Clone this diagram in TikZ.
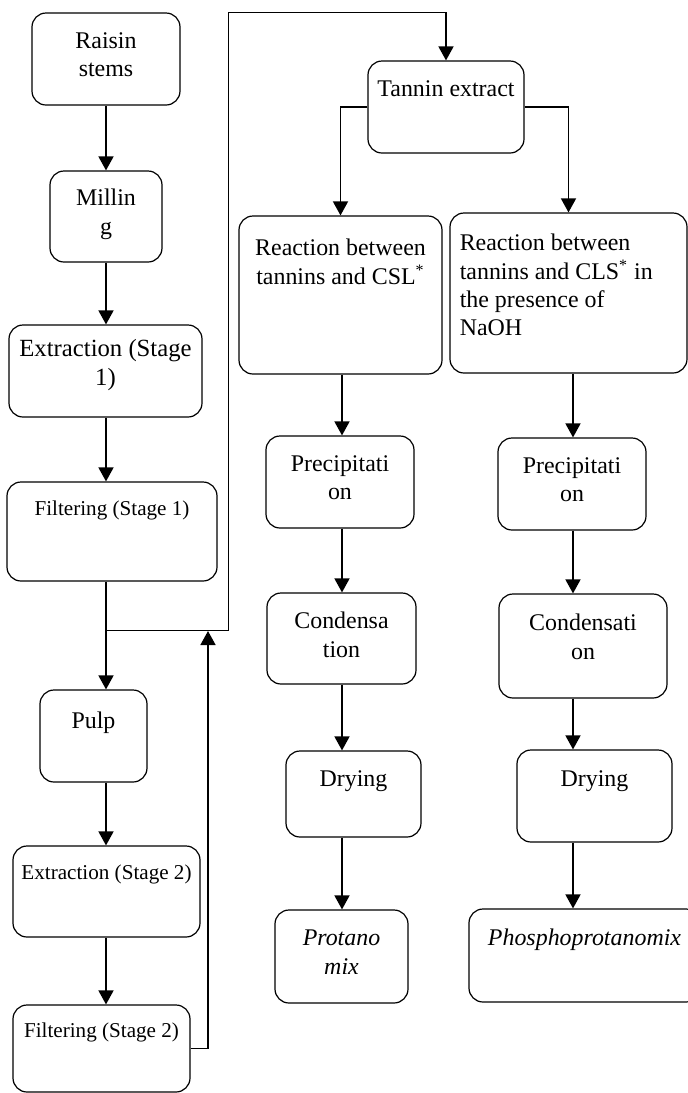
\documentclass[tikz,border=0pt]{standalone}
\usepackage{fontspec}
\setmainfont{Liberation Serif}
\usetikzlibrary{arrows.meta,positioning}

\begin{document}
\begin{tikzpicture}[x=0.5bp,y=-0.5bp,
   every node/.style={font=\fontsize{12}{14.2}\selectfont},
   box/.style={draw,rectangle,rounded corners=7bp,line width=0.6bp,inner sep=0pt},
   txt/.style={inner sep=0pt,align=center},
   small/.style={font=\fontsize{10.6}{12.7}\selectfont},
   arr/.style={line width=0.8bp,-{Triangle[length=7bp,width=7.5bp]}},
   ln/.style={line width=0.5bp}
]
\useasboundingbox (0,0) rectangle (688,1093);

% column lines and bends
\coordinate (CL) at (106,0);
\coordinate (CM) at (342,0);
\coordinate (CR) at (573,0);
\coordinate (J1) at (106,630);
\coordinate (J2) at (208,631);
\coordinate (TL) at (228,12);

% left column
\node[box,minimum width=74bp,minimum height=46bp] (RS) at (106,59) {};
\node[txt,below=9.75bp of RS.north] (RSt) {Raisin\\stems};
\node[box,minimum width=56bp,minimum height=45.5bp] (MI) at (106,216.5) {};
\node[txt,below=9.25bp of MI.north] (MIt) {Millin\\g};
\node[box,minimum width=96.5bp,minimum height=46bp] (EX1) at (105.5,371) {};
\node[txt,below=7.5bp of EX1.north,font=\fontsize{12.4}{14.4}\selectfont] (EX1t) {Extraction (Stage\\1)};
\node[box,minimum width=105bp,minimum height=49.5bp] (FL1) at (112,531.5) {};
\node[txt,small,below=9.5bp of FL1.north] (FL1t) {Filtering (Stage 1)};
\node[box,minimum width=53.5bp,minimum height=46bp] (PU) at (93.5,736) {};
\node[txt,below=11bp of PU.north] (PUt) {Pulp};
\node[box,minimum width=93.5bp,minimum height=45.5bp] (EX2) at (106.5,891.5) {};
\node[txt,small,below=9.75bp of EX2.north] (EX2t) {Extraction (Stage 2)};
\node[box,minimum width=88.5bp,minimum height=43.5bp] (FL2) at (101.5,1048.5) {};
\node[txt,small,below=9.25bp of FL2.north] (FL2t) {Filtering (Stage 2)};

\draw[arr] (RS.south -| CL) -- (MI.north -| CL);
\draw[arr] (MI.south -| CL) -- (EX1.north -| CL);
\draw[arr] (EX1.south -| CL) -- (FL1.north -| CL);
\draw[arr] (FL1.south -| CL) -- (PU.north -| CL);
\draw[arr] (PU.south -| CL) -- (EX2.north -| CL);
\draw[arr] (EX2.south -| CL) -- (FL2.north -| CL);

% tannin extract and its two branches
\node[box,minimum width=78bp,minimum height=46bp] (TE) at (446,107) {};
\node[txt,below=9.75bp of TE.north] (TEt) {Tannin extract};
\draw[ln] (J1) -| (TL) -- (TL -| TE.north);
\draw[arr] (TL -| TE.north) -- (TE.north);
\draw[arr] (FL2.east) -| (J2);

\node[box,minimum width=101.5bp,minimum height=79bp] (RX1) at (340.5,295) {};
\node[txt,below=11.75bp of RX1.north] (RX1t) {Reaction between\\tannins and CSL\textsuperscript{*}};
\node[box,minimum width=118.5bp,minimum height=80bp] (RX2) at (568.5,293) {};
\node[txt,align=left,below right=10.75bp and 5bp of RX2.north west] (RX2t)
   {Reaction between\\tannins and CLS\textsuperscript{*} in\\the presence of\\NaOH};
\draw[arr] (TE.west) -| (RX1.north);
\draw[arr] (TE.east) -| (RX2.north);

% CSL branch
\node[box,minimum width=74bp,minimum height=46bp] (PR1) at (340,482) {};
\node[txt,below=9.75bp of PR1.north] (PR1t) {Precipitati\\on};
\node[box,minimum width=74.5bp,minimum height=45.5bp] (CD1) at (341.5,638.5) {};
\node[txt,below=9.75bp of CD1.north] (CD1t) {Condensa\\tion};
\node[box,minimum width=67.5bp,minimum height=43bp] (DR1) at (353.5,794) {};
\node[txt,below=9.75bp of DR1.north] (DR1t) {Drying};
\node[box,minimum width=66.5bp,minimum height=46.5bp] (PM) at (341.5,956.5) {};
\node[txt,below=10.25bp of PM.north] (PMt) {\textit{Protano}\\\textit{mix}};
\draw[arr] (RX1.south -| CM) -- (PR1.north -| CM);
\draw[arr] (PR1.south -| CM) -- (CD1.north -| CM);
\draw[arr] (CD1.south -| CM) -- (DR1.north -| CM);
\draw[arr] (DR1.south -| CM) -- (PM.north -| CM);

% CLS + NaOH branch
\node[box,minimum width=74bp,minimum height=46bp] (PR2) at (572,484) {};
\node[txt,below=9.75bp of PR2.north] (PR2t) {Precipitati\\on};
\node[box,minimum width=84bp,minimum height=52bp] (CD2) at (583,646) {};
\node[txt,below=10.25bp of CD2.north] (CD2t) {Condensati\\on};
\node[box,minimum width=77.5bp,minimum height=46bp] (DR2) at (594.5,796) {};
\node[txt,below=10.25bp of DR2.north] (DR2t) {Drying};
\node[box,minimum width=115.5bp,minimum height=46.5bp] (PPM) at (584.5,955.5) {};
\node[txt,below=10.25bp of PPM.north] (PPMt) {\textit{Phosphoprotanomix}};
\draw[arr] (RX2.south -| CR) -- (PR2.north -| CR);
\draw[arr] (PR2.south -| CR) -- (CD2.north -| CR);
\draw[arr] (CD2.south -| CR) -- (DR2.north -| CR);
\draw[arr] (DR2.south -| CR) -- (PPM.north -| CR);

\end{tikzpicture}
\end{document}
